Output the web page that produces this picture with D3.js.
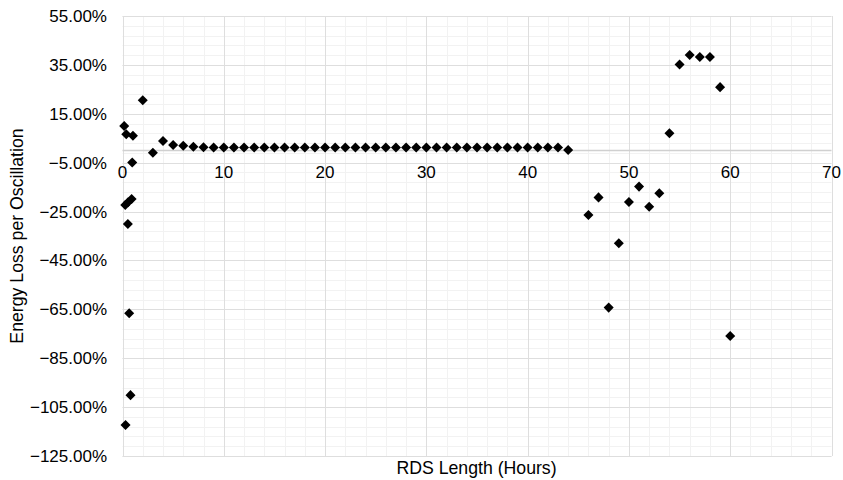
<!DOCTYPE html>
<html>
<head>
<meta charset="utf-8">
<script src="https://cdn.jsdelivr.net/npm/d3@7"></script>
<style>
  html, body { margin: 0; padding: 0; background: #fff; }
  text { font-family: "Liberation Sans", Arial, sans-serif; fill: #000; }
</style>
</head>
<body>
<svg id="chart" width="843" height="480"></svg>
<script>
// ---- data ----
const hours = [0.17, 0.37, 1.03, 0.96, 0.27, 0.55, 0.9, 0.53, 0.66, 0.79, 0.3,
  2, 3, 4, 5, 6, 7, 8, 9, 10, 11, 12, 13, 14, 15, 16, 17, 18, 19, 20, 21, 22, 23, 24, 25,
  26, 27, 28, 29, 30, 31, 32, 33, 34, 35, 36, 37, 38, 39, 40, 41, 42, 43, 44,
  46, 47, 48, 49, 50, 51, 52, 53, 54, 55, 56, 57, 58, 59, 60];
const energyLoss = [10.0, 6.6, 6.0, -4.9, -22.3, -21.2, -19.9, -30.1, -66.6, -100.1, -112.3,
  20.5, -0.9, 3.9, 2.2, 1.9, 1.5, 1.3, 1.2, 1.2, 1.2, 1.2, 1.2, 1.2, 1.2, 1.2, 1.2, 1.2, 1.2, 1.2, 1.2, 1.2, 1.2, 1.2, 1.2,
  1.2, 1.2, 1.2, 1.2, 1.2, 1.2, 1.2, 1.2, 1.2, 1.2, 1.2, 1.2, 1.2, 1.2, 1.2, 1.2, 1.2, 1.2, 0.2,
  -26.4, -19.2, -64.3, -38.0, -21.1, -14.8, -23.0, -17.5, 7.0, 35.2, 39.0, 38.2, 38.2, 25.9, -75.9];
const xTicks = [0, 10, 20, 30, 40, 50, 60, 70];
const yTicks = [55, 35, 15, -5, -25, -45, -65, -85, -105, -125];
const xTitle = "RDS Length (Hours)";
const yTitle = "Energy Loss per Oscillation";

// ---- layout ----
const svg = d3.select("#chart");
const L = 122.5, R = 831.5, T = 16, B = 456;
const x = d3.scaleLinear().domain([0, 70]).range([L, R]);
const y = d3.scaleLinear().domain([-125, 55]).range([B, T]);

// minor gridlines
const xMinor = d3.range(0, 70.001, 2);
const yMinor = d3.range(-125, 55.001, 4);
const g = svg.append("g");
g.selectAll(".vxm").data(xMinor).enter().append("line")
  .attr("x1", d => Math.round(x(d)) + 0.5).attr("x2", d => Math.round(x(d)) + 0.5)
  .attr("y1", T).attr("y2", B).attr("stroke", "#f2f2f2").attr("stroke-width", 1);
g.selectAll(".hym").data(yMinor).enter().append("line")
  .attr("y1", d => Math.round(y(d)) + 0.5).attr("y2", d => Math.round(y(d)) + 0.5)
  .attr("x1", L).attr("x2", R).attr("stroke", "#f2f2f2").attr("stroke-width", 1);
// major gridlines
g.selectAll(".vx").data(xTicks).enter().append("line")
  .attr("x1", d => Math.round(x(d)) + 0.5).attr("x2", d => Math.round(x(d)) + 0.5)
  .attr("y1", T).attr("y2", B).attr("stroke", "#dedede").attr("stroke-width", 1);
g.selectAll(".hy").data(yTicks).enter().append("line")
  .attr("y1", d => Math.round(y(d)) + 0.5).attr("y2", d => Math.round(y(d)) + 0.5)
  .attr("x1", L).attr("x2", R).attr("stroke", "#dedede").attr("stroke-width", 1);
// horizontal axis line at 0
g.append("line").attr("x1", L).attr("x2", R)
  .attr("y1", Math.round(y(0)) + 0.5).attr("y2", Math.round(y(0)) + 0.5)
  .attr("stroke", "#d0d0d0").attr("stroke-width", 1.5);

// x tick labels (below the zero line)
svg.append("g").selectAll("text").data(xTicks).enter().append("text")
  .attr("x", d => x(d)).attr("y", y(0) + 28)
  .attr("text-anchor", "middle").attr("font-size", 17)
  .text(d => d);
// y tick labels
svg.append("g").selectAll("text").data(yTicks).enter().append("text")
  .attr("x", 107).attr("y", d => y(d) + 6)
  .attr("text-anchor", "end").attr("font-size", 17)
  .text(d => d3.format(".2f")(d) + "%");

// axis titles
svg.append("text").attr("x", (L + R) / 2 - 0.5).attr("y", 474)
  .attr("text-anchor", "middle").attr("font-size", 17.7).text(xTitle);
svg.append("text").attr("transform", `translate(23,${(T + B) / 2}) rotate(-90)`)
  .attr("text-anchor", "middle").attr("font-size", 17.7).text(yTitle);

// markers
const sym = d3.symbol().type(d3.symbolDiamond2).size(64);
svg.append("g").selectAll("path").data(hours.map((h, i) => [h, energyLoss[i]]))
  .enter().append("path")
  .attr("transform", d => `translate(${x(d[0])},${y(d[1])})`)
  .attr("d", sym).attr("fill", "#000");
</script>
</body>
</html>
